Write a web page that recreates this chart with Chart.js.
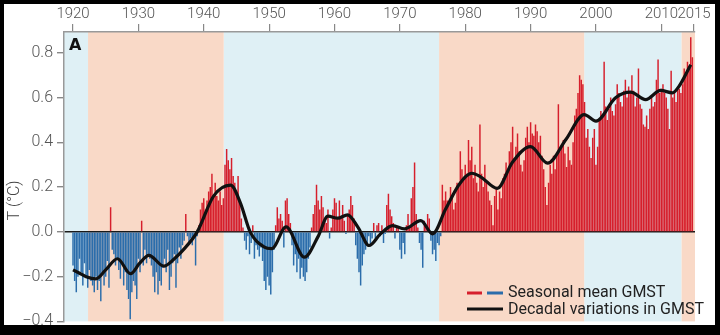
<!DOCTYPE html>
<html>
<head>
<meta charset="utf-8">
<script src="https://cdn.jsdelivr.net/npm/chart.js@4.4.1/dist/chart.umd.min.js"></script>
<style>
  html, body { margin: 0; padding: 0; background: #000; }
  #box { width: 720px; height: 335px; }
</style>
</head>
<body>
<div id="box"><canvas id="gmst" width="720" height="335"></canvas></div>
<script>
// anos das marcas do eixo de cima
const tickYears = [1920, 1930, 1940, 1950, 1960, 1970, 1980, 1990, 2000, 2010, 2015];
const tickTemps = [-0.4, -0.2, 0.0, 0.2, 0.4, 0.6, 0.8];

// media sazonal (4 valores por ano, 1920 ate 2014)
const firstYear = 1920;
const seasonalGMST = [
  -0.15, -0.22, -0.27, -0.20,  // 1920
  -0.12, -0.18, -0.24, -0.14,
  -0.20, -0.25, -0.17, -0.22,
  -0.24, -0.27, -0.20, -0.26,
  -0.22, -0.31, -0.18, -0.24,
  -0.20, -0.13, -0.25,  0.11,  // 1925
  -0.08, -0.10, -0.15, -0.12,
  -0.17, -0.21, -0.14, -0.24,
  -0.18, -0.26, -0.30, -0.39,
  -0.27, -0.22, -0.24, -0.30,
  -0.12, -0.18,  0.05, -0.15,  // 1930
  -0.08, -0.14, -0.10, -0.12,
  -0.15, -0.20, -0.27, -0.18,
  -0.28, -0.22, -0.24, -0.16,
  -0.12, -0.18, -0.08, -0.26,
  -0.20, -0.14, -0.10, -0.25,  // 1935
  -0.14, -0.07, -0.12, -0.06,
  -0.04,  0.08, -0.02, -0.05,
  -0.03, -0.06, -0.02, -0.15,
  -0.02,  0.03,  0.10,  0.13,
   0.15,  0.10,  0.14,  0.18,  // 1940
   0.20,  0.26,  0.16,  0.22,
   0.16,  0.14,  0.18,  0.12,
   0.15,  0.30,  0.37,  0.32,
   0.28,  0.33,  0.25,  0.22,
   0.18,  0.25,  0.14,  0.06,  // 1945
   0.02, -0.04, -0.08, -0.02,
  -0.10, -0.05,  0.03, -0.12,
  -0.06, -0.08, -0.11, -0.07,
  -0.13, -0.22, -0.26, -0.20,
  -0.24, -0.28, -0.18, -0.08,  // 1950
   0.03,  0.11,  0.06,  0.08,
   0.05, -0.07,  0.14,  0.15,
   0.08,  0.04, -0.06, -0.15,
  -0.10, -0.18, -0.12, -0.21,
  -0.16, -0.20, -0.22, -0.18,  // 1955
  -0.12, -0.07,  0.02,  0.08,
   0.12,  0.21,  0.14,  0.10,
   0.16,  0.11,  0.06,  0.04,
   0.10, -0.03,  0.02,  0.10,
   0.15,  0.13,  0.06,  0.14,  // 1960
   0.06,  0.12,  0.05, -0.01,
   0.08,  0.10,  0.16,  0.12,
   0.06, -0.06, -0.12, -0.18,
  -0.24, -0.15, -0.10, -0.08,
  -0.05, -0.02, -0.06, -0.03,  // 1965
   0.04, -0.03,  0.03,  0.04,
  -0.02,  0.03, -0.05, -0.01,
   0.12,  0.17,  0.10,  0.07,
   0.04, -0.03,  0.02,  0.02,
  -0.08, -0.12, -0.05, -0.10,  // 1970
   0.03,  0.08,  0.02,  0.15,
   0.20,  0.31,  0.08,  0.02,
  -0.05, -0.08, -0.16,  0.05,
   0.02,  0.08,  0.06, -0.04,
  -0.10, -0.08, -0.13, -0.05,  // 1975
  -0.06, -0.02,  0.21,  0.14,
   0.18,  0.14,  0.12,  0.20,
   0.16,  0.10,  0.13,  0.22,
   0.20,  0.36,  0.28,  0.24,
   0.30,  0.26,  0.41,  0.32,  // 1980
   0.38,  0.24,  0.30,  0.22,
   0.18,  0.48,  0.26,  0.20,
   0.30,  0.22,  0.18,  0.14,
   0.12,  0.03,  0.16,  0.20,
   0.10,  0.18,  0.15,  0.24,  // 1985
   0.26,  0.31,  0.28,  0.36,
   0.40,  0.47,  0.33,  0.38,
   0.44,  0.36,  0.30,  0.27,
   0.32,  0.42,  0.47,  0.40,
   0.49,  0.44,  0.43,  0.48,  // 1990
   0.45,  0.40,  0.43,  0.34,
   0.28,  0.20,  0.12,  0.22,
   0.30,  0.26,  0.34,  0.28,
   0.34,  0.57,  0.36,  0.38,
   0.41,  0.35,  0.29,  0.38,  // 1995
   0.32,  0.30,  0.40,  0.52,
   0.55,  0.62,  0.70,  0.68,
   0.66,  0.58,  0.42,  0.46,
   0.38,  0.33,  0.42,  0.46,
   0.30,  0.38,  0.50,  0.54,  // 2000
   0.52,  0.76,  0.56,  0.50,
   0.55,  0.60,  0.54,  0.52,
   0.57,  0.66,  0.62,  0.58,
   0.56,  0.63,  0.68,  0.60,
   0.65,  0.62,  0.70,  0.63,  // 2005
   0.56,  0.60,  0.73,  0.57,
   0.55,  0.48,  0.47,  0.52,
   0.46,  0.55,  0.60,  0.56,
   0.58,  0.68,  0.77,  0.62,
   0.64,  0.66,  0.62,  0.60,  // 2010
   0.55,  0.46,  0.72,  0.60,
   0.62,  0.58,  0.65,  0.64,
   0.62,  0.66,  0.73,  0.70,
   0.76,  0.74,  0.87,  0.78   // 2014
];

// variacao decadal (linha preta)
const decadalYears = [1920, 1921, 1922, 1923.5, 1925, 1926.8, 1928.8, 1930.2, 1931.6, 1933.9, 1935.5, 1937,
  1939, 1941.5, 1944.1, 1945.6, 1947.1, 1949.2, 1950.4, 1952.6, 1955.4, 1957.5, 1959, 1960.5, 1962,
  1963.6, 1965.3, 1967, 1968.9, 1970.7, 1973.2, 1975, 1977, 1979.1, 1981, 1982.4, 1984.9, 1987.2,
  1990, 1992.6, 1995.4, 1998.2, 2000, 2003, 2005.3, 2007.6, 2009.9, 2011.7, 2012.7, 2014.5];
const decadalGMST = [-0.17, -0.185, -0.20, -0.21, -0.17, -0.12, -0.187, -0.14, -0.105, -0.153, -0.12, -0.076,
  0.0, 0.16, 0.209, 0.13, 0.0, -0.067, -0.075, 0.022, -0.113, -0.02, 0.07, 0.061, 0.076,
  0.02, -0.061, -0.01, 0.028, 0.013, 0.05, -0.009, 0.102, 0.213, 0.262, 0.245, 0.194, 0.31,
  0.381, 0.307, 0.413, 0.524, 0.495, 0.599, 0.624, 0.591, 0.632, 0.621, 0.65, 0.747];

// faixas de fundo (quente / fria)
const warmSpans = [[1922.3, 1943.05], [1976, 1998.2], [2013.1, 2015.2]];
const coolSpans = [[1918.6, 1922.3], [1943.05, 1976], [1998.2, 2013.1]];

const RED = '#d61f2c';
const BLUE = '#2b6dab';

const seasonalPoints = seasonalGMST.map((v, i) => ({ x: firstYear + i / 4, y: v }));
const decadalPoints = decadalYears.map((yr, i) => ({ x: yr, y: decadalGMST[i] }));

// desenha moldura preta e as faixas antes dos eixos
const fundoPlugin = {
  id: 'fundo',
  beforeDraw(chart) {
    const { ctx, chartArea: a, scales } = chart;
    ctx.save();
    ctx.fillStyle = '#000';
    ctx.fillRect(0, 0, chart.width, chart.height);
    ctx.fillStyle = '#fff';
    ctx.fillRect(4, 4, 711, 321);
    const faixa = (spans, cor) => {
      ctx.fillStyle = cor;
      spans.forEach(([a0, a1]) => {
        const x0 = Math.max(a.left, scales.x.getPixelForValue(a0));
        const x1 = Math.min(a.right, scales.x.getPixelForValue(a1));
        ctx.fillRect(x0, a.top, x1 - x0, a.bottom - a.top);
      });
    };
    faixa(coolSpans, '#dff0f5');
    faixa(warmSpans, '#f9d9c7');
    ctx.restore();
  },
  afterDraw(chart) {
    const { ctx, chartArea: a, scales } = chart;
    ctx.save();
    // letra do painel
    ctx.fillStyle = '#111';
    ctx.font = 'bold 16px "DejaVu Sans"';
    ctx.textBaseline = 'middle';
    ctx.fillText('A', a.left + 5, 46);

    // titulo do eixo y
    ctx.translate(15, scales.y.getPixelForValue(0.14));
    ctx.rotate(-Math.PI / 2);
    ctx.textAlign = 'center';
    ctx.fillStyle = '#444';
    ctx.font = '300 16px Roboto';
    ctx.fillText('T (°C)', 0, 0);
    ctx.restore();

    // legenda
    ctx.save();
    ctx.lineWidth = 3;
    ctx.strokeStyle = RED;
    ctx.beginPath(); ctx.moveTo(467, 293); ctx.lineTo(482, 293); ctx.stroke();
    ctx.strokeStyle = BLUE;
    ctx.beginPath(); ctx.moveTo(487, 293); ctx.lineTo(503, 293); ctx.stroke();
    ctx.strokeStyle = '#111';
    ctx.beginPath(); ctx.moveTo(467, 309); ctx.lineTo(503, 309); ctx.stroke();
    ctx.fillStyle = '#222';
    ctx.font = '16px Roboto';
    ctx.textBaseline = 'middle';
    ctx.fillText('Seasonal mean GMST', 508, 293);
    ctx.fillText('Decadal variations in GMST', 508, 310);
    ctx.restore();
  }
};

const ctx = document.getElementById('gmst').getContext('2d');
new Chart(ctx, {
  type: 'bar',
  data: {
    datasets: [
      {
        type: 'line',
        data: decadalPoints,
        borderColor: '#111',
        borderWidth: 3.2,
        pointRadius: 0,
        cubicInterpolationMode: 'monotone',
        order: 0
      },
      {
        type: 'bar',
        data: seasonalPoints,
        backgroundColor: seasonalGMST.map(v => v >= 0 ? RED : BLUE),
        barPercentage: 0.9,
        categoryPercentage: 1,
        order: 1
      }
    ]
  },
  options: {
    responsive: false,
    animation: false,
    events: [],
    layout: { padding: { left: 4, top: 4, right: 25, bottom: 13 } },
    plugins: { legend: { display: false }, tooltip: { enabled: false } },
    scales: {
      x: {
        type: 'linear',
        position: 'top',
        min: 1918.62,
        max: 2015.15,
        offset: false,
        afterBuildTicks: (s) => { s.ticks = tickYears.map(v => ({ value: v })); },
        afterFit: (s) => { s.height = 28; },
        grid: { offset: false, drawOnChartArea: false, drawTicks: true, tickLength: 8, tickColor: '#888', lineWidth: 1.2 },
        border: { display: true, color: '#999', width: 1.5 },
        ticks: {
          padding: 1,
          maxRotation: 0,
          autoSkip: false,
          color: '#555',
          font: { family: 'Roboto', size: 15, weight: '300' },
          callback: (v) => String(v)
        }
      },
      y: {
        min: -0.4,
        max: 0.893,
        afterBuildTicks: (s) => { s.ticks = tickTemps.map(v => ({ value: v })); },
        afterFit: (s) => { s.width = 60; },
        grid: {
          drawTicks: true,
          tickLength: 7,
          tickColor: '#888',
          color: (c) => (c.tick && Math.abs(c.tick.value) < 1e-9) ? '#1a1a1a' : 'rgba(0,0,0,0)',
          lineWidth: 1.4
        },
        border: { display: true, color: '#999', width: 1.5 },
        ticks: {
          padding: 4,
          color: '#555',
          font: { family: 'Roboto', size: 16, weight: '300' },
          callback: (v) => v.toFixed(1).replace('-', '\u2212')
        }
      }
    }
  },
  plugins: [fundoPlugin]
});
</script>
</body>
</html>
